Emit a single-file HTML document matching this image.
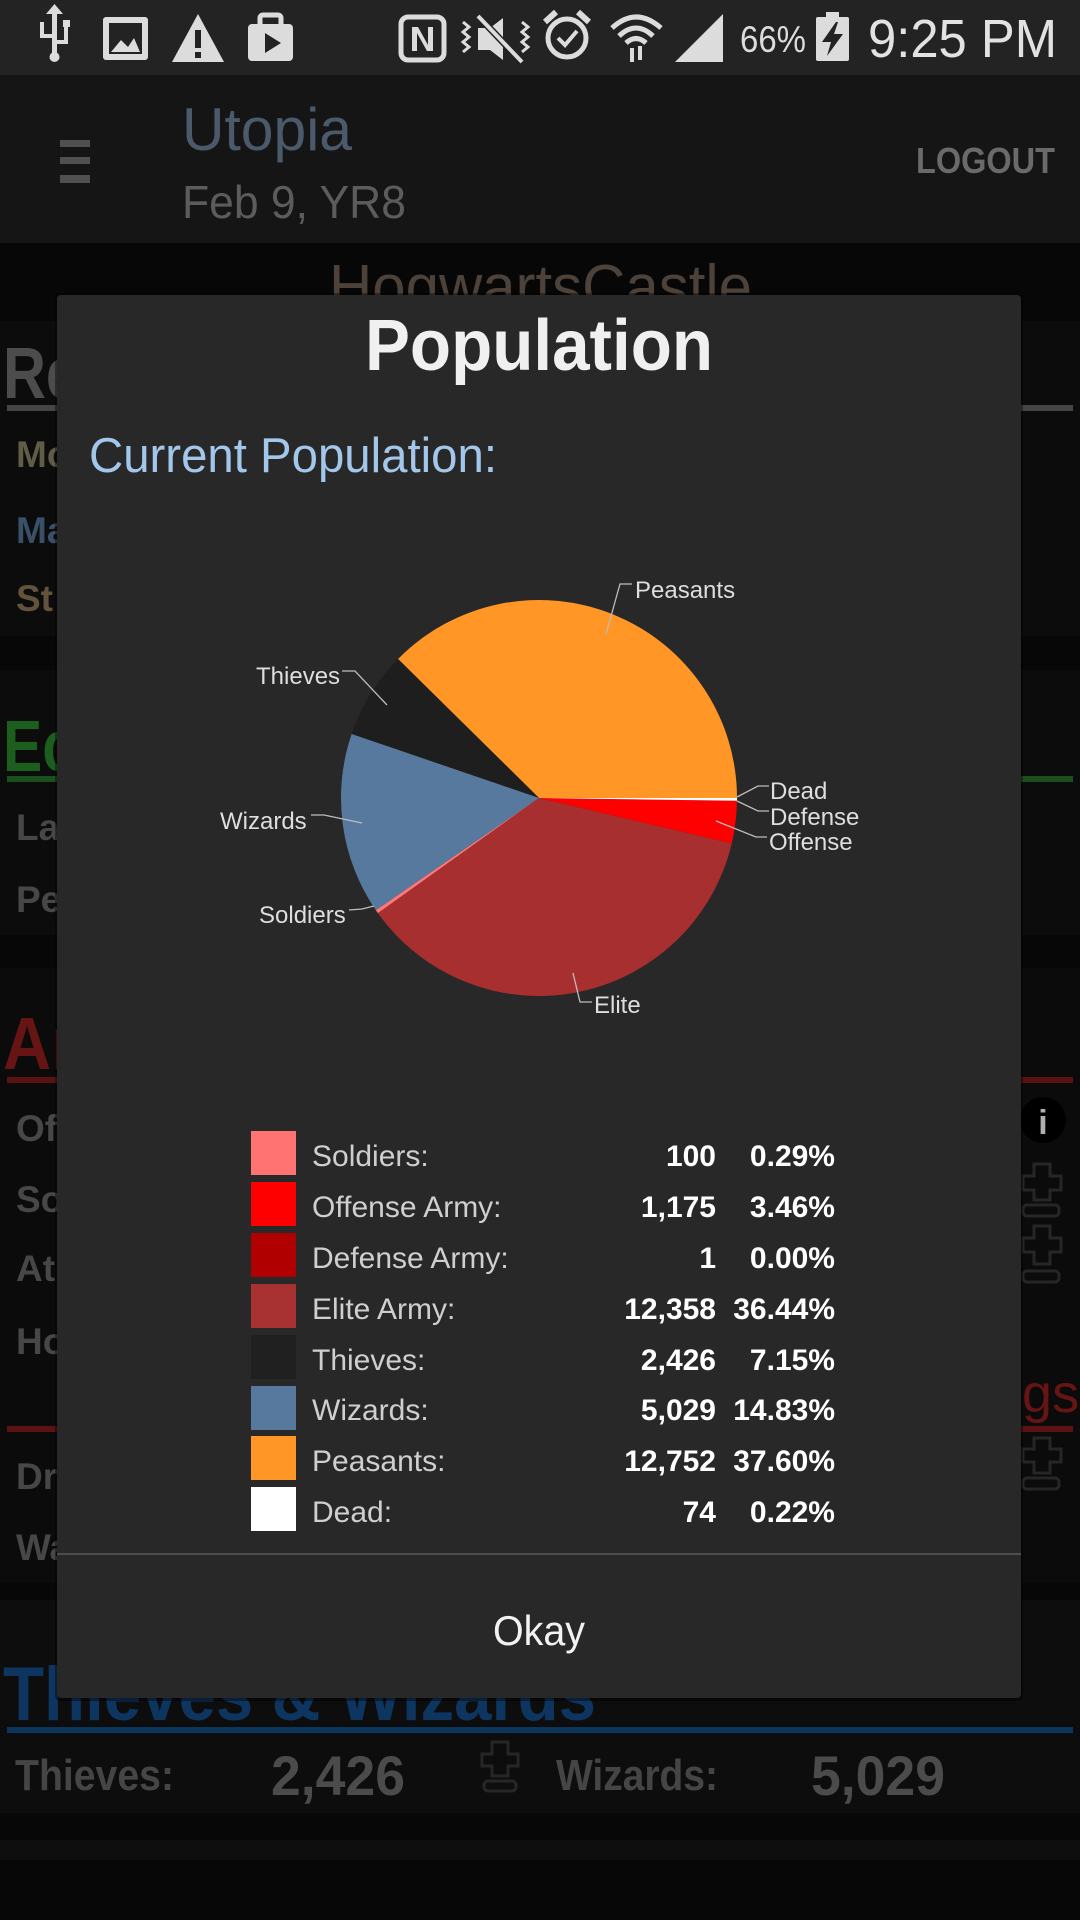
<!DOCTYPE html>
<html><head><meta charset="utf-8"><style>
html,body{margin:0;padding:0;background:#070707;}
svg{display:block;}
text{font-family:"Liberation Sans",Arial,sans-serif;}
</style></head><body>
<svg width="1080" height="1920" viewBox="0 0 1080 1920" xmlns="http://www.w3.org/2000/svg">
<rect x="0" y="0" width="1080" height="1920" fill="#070707"/>
<!-- background cards -->
<rect x="0" y="321" width="1080" height="315" fill="#0c0c0c"/>
<rect x="0" y="670" width="1080" height="265" fill="#0c0c0c"/>
<rect x="0" y="968" width="1080" height="615" fill="#0b0b0b"/>
<rect x="0" y="1600" width="1080" height="213" fill="#0d0d0d"/>
<rect x="0" y="1840" width="1080" height="20" fill="#0e0e0e"/>

<!-- status bar -->
<rect x="0" y="0" width="1080" height="75" fill="#232323"/>
<g fill="#dcdcdc" stroke="none">
  <rect x="52" y="14" width="5" height="40"/>
  <circle cx="54.5" cy="57" r="5"/>
  <path d="M46 14 L54.5 4 L63 14 Z"/>
  <rect x="40" y="22" width="4" height="14"/><rect x="40" y="34" width="14" height="4"/>
  <rect x="63" y="20" width="7" height="7"/><rect x="64" y="26" width="4" height="16"/><rect x="56" y="40" width="12" height="4"/>
  <rect x="103" y="17" width="45" height="43" rx="3"/>
  <rect x="109" y="23" width="33" height="31" fill="#232323"/>
  <path d="M111 52 L121 40 L128 47 L134 38 L140 52 Z"/>
  <path d="M198 14 L224 62 L172 62 Z"/>
  <rect x="195" y="30" width="6" height="18" fill="#232323"/><rect x="195" y="52" width="6" height="6" fill="#232323"/>
  <rect x="248" y="24" width="45" height="37" rx="4"/>
  <rect x="260" y="15" width="21" height="12" rx="3" fill="none" stroke="#dcdcdc" stroke-width="5"/>
  <path d="M265 33 L281 43 L265 53 Z" fill="#232323"/>
  <rect x="401" y="17" width="43" height="43" rx="7" fill="none" stroke="#dcdcdc" stroke-width="5"/>
  <path d="M412 27 L418 27 L428 45 L428 27 L433 27 L433 51 L427 51 L417 33 L417 51 L412 51 Z"/>
  <path d="M478 28 L490 28 L503 18 L503 60 L490 50 L478 50 Z"/>
  <line x1="478" y1="16" x2="522" y2="62" stroke="#232323" stroke-width="7"/>
  <line x1="478" y1="16" x2="522" y2="62" stroke="#dcdcdc" stroke-width="4"/>
  <path d="M463 22 l6 5 l-6 5 l6 5 l-6 5 l6 5 l-6 5" fill="none" stroke="#dcdcdc" stroke-width="3"/>
  <path d="M522 22 l6 5 l-6 5 l6 5 l-6 5 l6 5 l-6 5" fill="none" stroke="#dcdcdc" stroke-width="3"/>
  <circle cx="567" cy="38" r="19" fill="none" stroke="#dcdcdc" stroke-width="5"/>
  <path d="M558 38 L565 45 L577 31" fill="none" stroke="#dcdcdc" stroke-width="4"/>
  <path d="M545 22 L556 12" stroke="#dcdcdc" stroke-width="6"/><path d="M589 22 L578 12" stroke="#dcdcdc" stroke-width="6"/>
  <path d="M612 28 Q636 6 661 28" fill="none" stroke="#dcdcdc" stroke-width="5"/>
  <path d="M619 36 Q636 20 653 36" fill="none" stroke="#dcdcdc" stroke-width="5"/>
  <path d="M626 43 Q636 34 646 43" fill="none" stroke="#dcdcdc" stroke-width="5"/>
  <rect x="630" y="48" width="4" height="14"/><rect x="638" y="46" width="4" height="14"/>
  <path d="M675 62 L723 14 L723 62 Z"/>
  <rect x="826" y="12" width="13" height="6"/>
  <rect x="816" y="17" width="33" height="44" rx="2"/>
  <path d="M836 22 L822 42 L831 42 L827 56 L843 34 L834 34 L838 22 Z" fill="#232323"/>
</g>
<text x="740" y="52" font-size="37" fill="#dcdcdc" textLength="66" lengthAdjust="spacingAndGlyphs">66%</text>
<text x="868" y="57" font-size="54" fill="#e2e2e2" textLength="189" lengthAdjust="spacingAndGlyphs">9:25 PM</text>

<!-- app bar -->
<rect x="0" y="75" width="1080" height="168" fill="#151515"/>
<rect x="60" y="140" width="30" height="7" fill="#505050"/>
<rect x="60" y="157" width="30" height="7" fill="#505050"/>
<rect x="60" y="175" width="30" height="8" fill="#505050"/>
<text x="182" y="150" font-size="60" fill="#4b5a6b" textLength="170" lengthAdjust="spacingAndGlyphs">Utopia</text>
<text x="182" y="218" font-size="46" fill="#5c5c5c" textLength="224" lengthAdjust="spacingAndGlyphs">Feb 9, YR8</text>
<text x="916" y="173" font-size="36" font-weight="bold" fill="#6a6a6a" textLength="139" lengthAdjust="spacingAndGlyphs">LOGOUT</text>

<text x="329" y="308" font-size="62" fill="#4d4239" textLength="423" lengthAdjust="spacingAndGlyphs">HogwartsCastle</text>

<!-- left strip content -->
<text x="3" y="398" font-size="72" font-weight="bold" fill="#4c4c4c" textLength="76" lengthAdjust="spacingAndGlyphs">Re</text>
<rect x="7" y="405" width="1066" height="6" fill="#454545"/>
<text x="16" y="467" font-size="37" font-weight="bold" fill="#5f5d45">Mo</text>
<text x="16" y="543" font-size="37" font-weight="bold" fill="#3a5068">Ma</text>
<text x="16" y="611" font-size="37" font-weight="bold" fill="#64533c">St</text>
<text x="3" y="771" font-size="72" font-weight="bold" fill="#1c5e1e" textLength="72" lengthAdjust="spacingAndGlyphs">Ec</text>
<rect x="7" y="776" width="1066" height="6" fill="#1b4f1d"/>
<text x="16" y="840" font-size="37" font-weight="bold" fill="#474747">La</text>
<text x="16" y="912" font-size="37" font-weight="bold" fill="#474747">Pe</text>
<text x="3" y="1069" font-size="74" font-weight="bold" fill="#661414" textLength="74" lengthAdjust="spacingAndGlyphs">Ar</text>
<rect x="7" y="1077" width="1066" height="6" fill="#5a1212"/>
<text x="16" y="1141" font-size="37" font-weight="bold" fill="#474747">Of</text>
<text x="16" y="1212" font-size="37" font-weight="bold" fill="#474747">So</text>
<text x="16" y="1281" font-size="37" font-weight="bold" fill="#474747">At</text>
<text x="16" y="1354" font-size="37" font-weight="bold" fill="#474747">Ho</text>
<rect x="7" y="1426" width="1066" height="6" fill="#5a1212"/>
<text x="992" y="1412" font-size="54" fill="#661414">ngs</text>
<text x="16" y="1489" font-size="37" font-weight="bold" fill="#474747">Dr</text>
<text x="16" y="1560" font-size="37" font-weight="bold" fill="#474747">Wa</text>

<!-- right strip icons -->
<circle cx="1043" cy="1120" r="23" fill="#000"/>
<text x="1043" y="1134" font-size="34" font-weight="bold" fill="#b0b0b0" text-anchor="middle" font-family="Liberation Serif">i</text>
<g fill="none" stroke="#262626" stroke-width="3">
  <path d="M1034 1164 h16 v12 h11 v14 h-11 v10 h-16 v-10 h-11 v-14 h11 z"/>
  <rect x="1023" y="1205" width="36" height="11" rx="4"/>
  <path d="M1034 1226 h16 v12 h11 v14 h-11 v12 h-16 v-12 h-11 v-14 h11 z"/>
  <rect x="1023" y="1271" width="36" height="11" rx="4"/>
  <path d="M1034 1438 h16 v11 h11 v13 h-11 v11 h-16 v-11 h-11 v-13 h11 z"/>
  <rect x="1023" y="1478" width="36" height="11" rx="4"/>
  <path d="M492 1742 h16 v12 h10 v12 h-10 v10 h-16 v-10 h-10 v-12 h10 z"/>
  <rect x="484" y="1781" width="32" height="10" rx="4"/>
</g>

<!-- bottom section -->
<text x="3" y="1720" font-size="76" font-weight="bold" fill="#0d3560" textLength="593" lengthAdjust="spacingAndGlyphs">Thieves &amp; Wizards</text>
<rect x="7" y="1727" width="1066" height="6" fill="#0c355c"/>
<text x="15" y="1790" font-size="44" font-weight="bold" fill="#454545" textLength="159" lengthAdjust="spacingAndGlyphs">Thieves:</text>
<text x="271" y="1795" font-size="56" font-weight="bold" fill="#4b4b4b" textLength="134" lengthAdjust="spacingAndGlyphs">2,426</text>
<text x="556" y="1790" font-size="44" font-weight="bold" fill="#454545" textLength="162" lengthAdjust="spacingAndGlyphs">Wizards:</text>
<text x="811" y="1795" font-size="56" font-weight="bold" fill="#4b4b4b" textLength="134" lengthAdjust="spacingAndGlyphs">5,029</text>

<!-- dialog -->
<rect x="55" y="293" width="968" height="1408" rx="5" fill="#000" opacity="0.4"/>
<rect x="57" y="295" width="964" height="1403" rx="4" fill="#282828"/>
<text x="539" y="370" font-size="72" font-weight="bold" fill="#f0f0f0" text-anchor="middle" textLength="348" lengthAdjust="spacingAndGlyphs">Population</text>
<text x="89" y="472" font-size="49" fill="#a3c7ea" textLength="408" lengthAdjust="spacingAndGlyphs">Current Population:</text>

<!-- pie -->
<g>
  <path d="M539 798 L398.05 658.94 A198 198 0 0 1 737 798 Z" fill="#ff9626"/>
  <path d="M539 798 L351.63 733.99 A198 198 0 0 1 398.05 658.94 Z" fill="#1e1e1e"/>
  <path d="M539 798 L375.87 910.22 A198 198 0 0 1 351.63 733.99 Z" fill="#57799e"/>
  <path d="M539 798 L377.93 913.16 A198 198 0 0 1 375.87 910.22 Z" fill="#ff7777"/>
  <path d="M539 798 L731.73 843.37 A198 198 0 0 1 377.93 913.16 Z" fill="#a82f2f"/>
  <path d="M539 798 L736.98 800.74 A198 198 0 0 1 731.73 843.37 Z" fill="#ff0000"/>
  <path d="M539 798 L737 798 A198 198 0 0 1 736.98 800.74 Z" fill="#ffffff"/>
</g>
<g fill="none" stroke="#bdbdbd" stroke-width="1.3">
  <polyline points="606,634 620,584 632,584"/>
  <polyline points="342,671 355,671 387,705"/>
  <polyline points="311,815 324,815 362,823"/>
  <polyline points="349,910 362,909 374,906"/>
  <polyline points="573,973 580,1002 592,1002"/>
  <polyline points="737,797 758,786 769,786"/>
  <polyline points="737,801 758,811 769,811"/>
  <polyline points="716,821 756,837 767,837"/>
</g>
<g font-size="24" fill="#dedede">
  <text x="635" y="598">Peasants</text>
  <text x="256" y="684">Thieves</text>
  <text x="220" y="829">Wizards</text>
  <text x="259" y="923">Soldiers</text>
  <text x="594" y="1013">Elite</text>
  <text x="770" y="799">Dead</text>
  <text x="770" y="825">Defense</text>
  <text x="769" y="850">Offense</text>
</g>

<!-- legend -->
<g>
  <rect x="251" y="1131" width="45" height="44" fill="#ff7373"/>
  <rect x="251" y="1182" width="45" height="44" fill="#ff0000"/>
  <rect x="251" y="1233" width="45" height="44" fill="#b00000"/>
  <rect x="251" y="1284" width="45" height="44" fill="#a83232"/>
  <rect x="251" y="1335" width="45" height="44" fill="#202020"/>
  <rect x="251" y="1386" width="45" height="44" fill="#57799e"/>
  <rect x="251" y="1436" width="45" height="44" fill="#ff9626"/>
  <rect x="251" y="1487" width="45" height="44" fill="#ffffff"/>
</g>
<g font-size="30" fill="#cfcfcf">
  <text x="312" y="1166">Soldiers:</text>
  <text x="312" y="1217">Offense Army:</text>
  <text x="312" y="1268">Defense Army:</text>
  <text x="312" y="1319">Elite Army:</text>
  <text x="312" y="1370">Thieves:</text>
  <text x="312" y="1420">Wizards:</text>
  <text x="312" y="1471">Peasants:</text>
  <text x="312" y="1522">Dead:</text>
</g>
<g font-size="30" font-weight="bold" fill="#ffffff" text-anchor="end">
  <text x="716" y="1166">100</text>
  <text x="716" y="1217">1,175</text>
  <text x="716" y="1268">1</text>
  <text x="716" y="1319">12,358</text>
  <text x="716" y="1370">2,426</text>
  <text x="716" y="1420">5,029</text>
  <text x="716" y="1471">12,752</text>
  <text x="716" y="1522">74</text>
  <text x="835" y="1166">0.29%</text>
  <text x="835" y="1217">3.46%</text>
  <text x="835" y="1268">0.00%</text>
  <text x="835" y="1319">36.44%</text>
  <text x="835" y="1370">7.15%</text>
  <text x="835" y="1420">14.83%</text>
  <text x="835" y="1471">37.60%</text>
  <text x="835" y="1522">0.22%</text>
</g>

<rect x="57" y="1553" width="964" height="2" fill="#4d4d4d"/>
<text x="539" y="1645" font-size="42" fill="#f2f2f2" text-anchor="middle" textLength="92" lengthAdjust="spacingAndGlyphs">Okay</text>
</svg>
</body></html>
